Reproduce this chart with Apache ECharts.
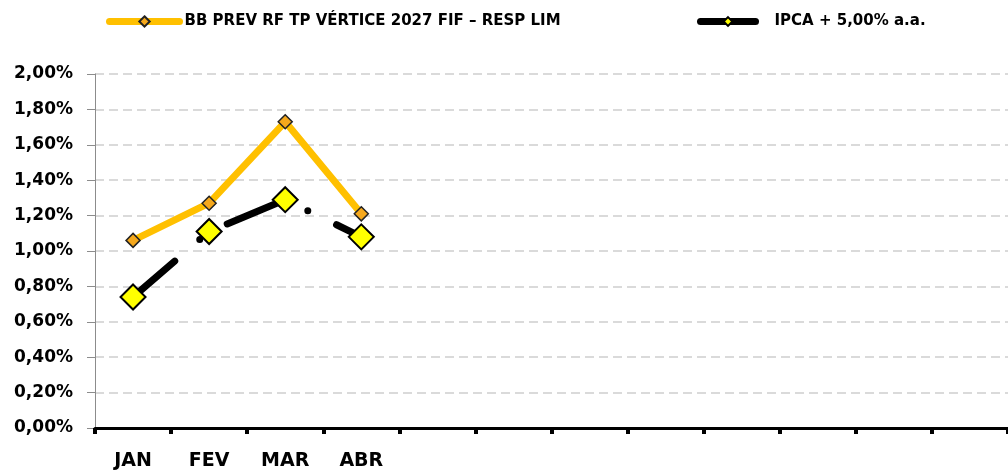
<!DOCTYPE html>
<html>
<head>
<meta charset="utf-8">
<script src="https://cdn.jsdelivr.net/npm/echarts@6/dist/echarts.min.js"></script>
<style>
  html, body { margin: 0; padding: 0; background: #fff; }
  #chart { width: 1008px; height: 471px; }
</style>
</head>
<body>
<div id="chart"></div>
<script>
// meses (só os 4 primeiros têm rótulo)
var meses = ['JAN', 'FEV', 'MAR', 'ABR', '', '', '', '', '', '', '', ''];
var fundo = [1.06, 1.27, 1.73, 1.21];
var ipca = [0.74, 1.11, 1.29, 1.08];
var nomeFundo = 'BB PREV RF TP VÉRTICE 2027 FIF – RESP LIM';
var nomeIpca = 'IPCA + 5,00% a.a.';

var fonte = 'DejaVu Sans';
var chart = echarts.init(document.getElementById('chart'));

var option = {
  animation: false,
  legend: [
    {
      data: [nomeFundo],
      left: 106,
      top: 14,
      padding: 0,
      itemWidth: 70,
      itemHeight: 13,
      lineStyle: { width: 7, cap: 'round' },
      textStyle: { fontFamily: fonte, fontWeight: 'bold', fontSize: 15, color: '#000' }
    },
    {
      data: [nomeIpca],
      left: 697,
      top: 14,
      padding: 0,
      itemWidth: 55,
      itemHeight: 11,
      lineStyle: { width: 7, cap: 'round', type: 'solid' },
      textStyle: { fontFamily: fonte, fontWeight: 'bold', fontSize: 15, color: '#000', padding: [0, 0, 0, 14] }
    }
  ],
  grid: { left: 95, right: -4, top: 74, bottom: 41 },
  xAxis: {
    type: 'category',
    data: meses,
    boundaryGap: true,
    axisLine: { lineStyle: { color: '#000', width: 3 } },
    axisTick: { show: true, interval: 0, length: 6, lineStyle: { color: '#000', width: 4 } },
    axisLabel: {
      interval: 0,
      margin: 24,
      color: '#000',
      fontFamily: fonte,
      fontWeight: 'bold',
      fontSize: 19
    },
    splitLine: { show: false }
  },
  yAxis: {
    type: 'value',
    min: 0,
    max: 2,
    interval: 0.2,
    axisLine: { show: true, lineStyle: { color: '#8c8c8c', width: 1 } },
    axisTick: { show: true, length: 8, lineStyle: { color: '#8c8c8c' } },
    axisLabel: {
      margin: 22,
      color: '#000',
      fontFamily: fonte,
      fontWeight: 'bold',
      fontSize: 17,
      formatter: function (v) { return v.toFixed(2).replace('.', ',') + '%'; }
    },
    splitLine: { show: true, lineStyle: { color: '#dadada', width: 2, type: [9, 5] } }
  },
  series: [
    {
      name: nomeFundo,
      type: 'line',
      data: fundo,
      symbol: 'diamond',
      symbolSize: 14,
      lineStyle: { color: '#ffc000', width: 7 },
      itemStyle: { color: '#f5a81c', borderColor: '#222', borderWidth: 1.5 },
      z: 2
    },
    {
      name: nomeIpca,
      type: 'line',
      data: ipca,
      symbol: 'diamond',
      symbolSize: 25,
      lineStyle: { color: '#000', width: 7, type: [55, 33, 0, 32], cap: 'round' },
      itemStyle: { color: '#ffff00', borderColor: '#000', borderWidth: 2 },
      z: 3
    }
  ]
};

chart.setOption(option);
</script>
</body>
</html>
